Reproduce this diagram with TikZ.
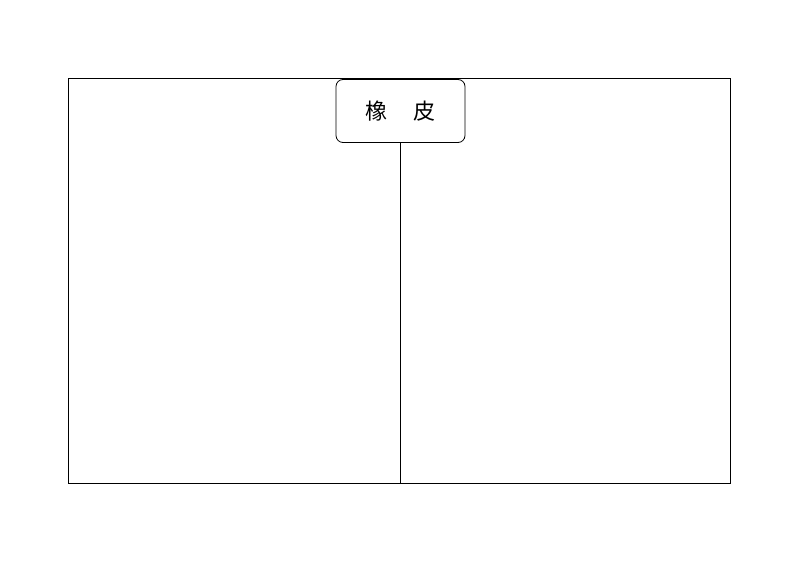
\documentclass[tikz,border=0pt]{standalone}
\usepackage{fontspec}
\newfontfamily\cjk{Noto Sans CJK SC}
\usetikzlibrary{positioning}
\tikzset{
  frame/.style    = {draw, line width=0.9pt},
  titlebox/.style = {draw, fill=white, rounded corners=7pt, line width=0.8pt,
                     minimum width=129pt, minimum height=63pt, inner sep=0pt,
                     font=\cjk\fontsize{22}{22}\selectfont},
  stem/.style     = {draw, line width=0.8pt}
}

\begin{document}
\begin{tikzpicture}[x=1pt,y=-1pt]
\useasboundingbox (0,0) rectangle (794,561);

% outer frame
\draw[frame] (68,78) rectangle (730,483);
\coordinate (bottom) at (400,483);

% title box on the top edge
\node[titlebox] (title) at (400.5,111) {橡\hspace{26pt}皮};

% vertical divider
\draw[stem] (title.south -| bottom) -- (bottom);

\end{tikzpicture}
\end{document}
